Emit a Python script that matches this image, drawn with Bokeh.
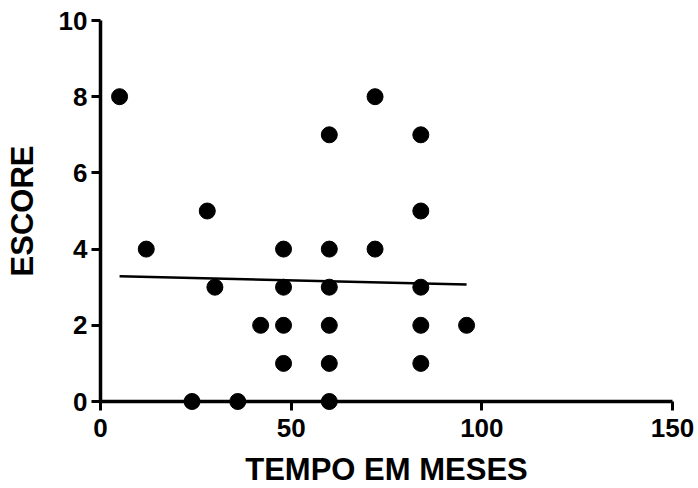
from bokeh.plotting import figure
from bokeh.models import Range1d, FixedTicker
from bokeh.embed import file_html
from bokeh.resources import INLINE

# data
tempo = [5, 12, 24, 28, 30, 36, 42, 48, 48, 48, 48, 60, 60, 60, 60, 60, 60, 72, 72, 84, 84, 84, 84, 84, 96]
escore = [8, 4, 0, 5, 3, 0, 2, 4, 3, 2, 1, 7, 4, 3, 2, 1, 0, 8, 4, 7, 5, 3, 2, 1, 2]
fit_x = [5, 96]
fit_y = [3.29, 3.07]
x_ticks = [0, 50, 100, 150]
y_ticks = [0, 2, 4, 6, 8, 10]

FONT = "Liberation Sans"

p = figure(frame_width=572, frame_height=381,
           x_range=Range1d(0, 150), y_range=Range1d(0, 10),
           output_backend="svg", toolbar_location=None,
           min_border_left=100, min_border_right=26,
           min_border_top=20, min_border_bottom=87)
p.outline_line_color = None
p.xgrid.visible = False
p.ygrid.visible = False
p.background_fill_color = "white"
p.border_fill_color = "white"

p.line(fit_x, fit_y, line_color="black", line_width=2.5)
r = p.scatter(tempo, escore, size=16, marker="circle", fill_color="black", line_color="black")
r.level = "overlay"

for ax, ticks in ((p.xaxis[0], x_ticks), (p.yaxis[0], y_ticks)):
    ax.ticker = FixedTicker(ticks=ticks)
    ax.axis_line_width = 3.5
    ax.major_tick_line_width = 3
    ax.major_tick_out = 9
    ax.major_tick_in = 0
    ax.minor_tick_line_color = None
    ax.major_label_text_font = FONT
    ax.major_label_text_font_style = "bold"
    ax.major_label_text_font_size = "26px"
    ax.major_label_text_color = "black"
    ax.axis_label_text_font = FONT
    ax.axis_label_text_font_style = "bold"
    ax.axis_label_text_font_size = "31px"
    ax.axis_label_text_color = "black"

p.xaxis.axis_label = "TEMPO EM MESES"
p.yaxis.axis_label = "ESCORE"
p.xaxis.major_label_standoff = 8
p.yaxis.major_label_standoff = 4
p.xaxis.axis_label_standoff = 12
p.yaxis.axis_label_standoff = 16

open("out.html", "w").write(file_html(p, INLINE))
